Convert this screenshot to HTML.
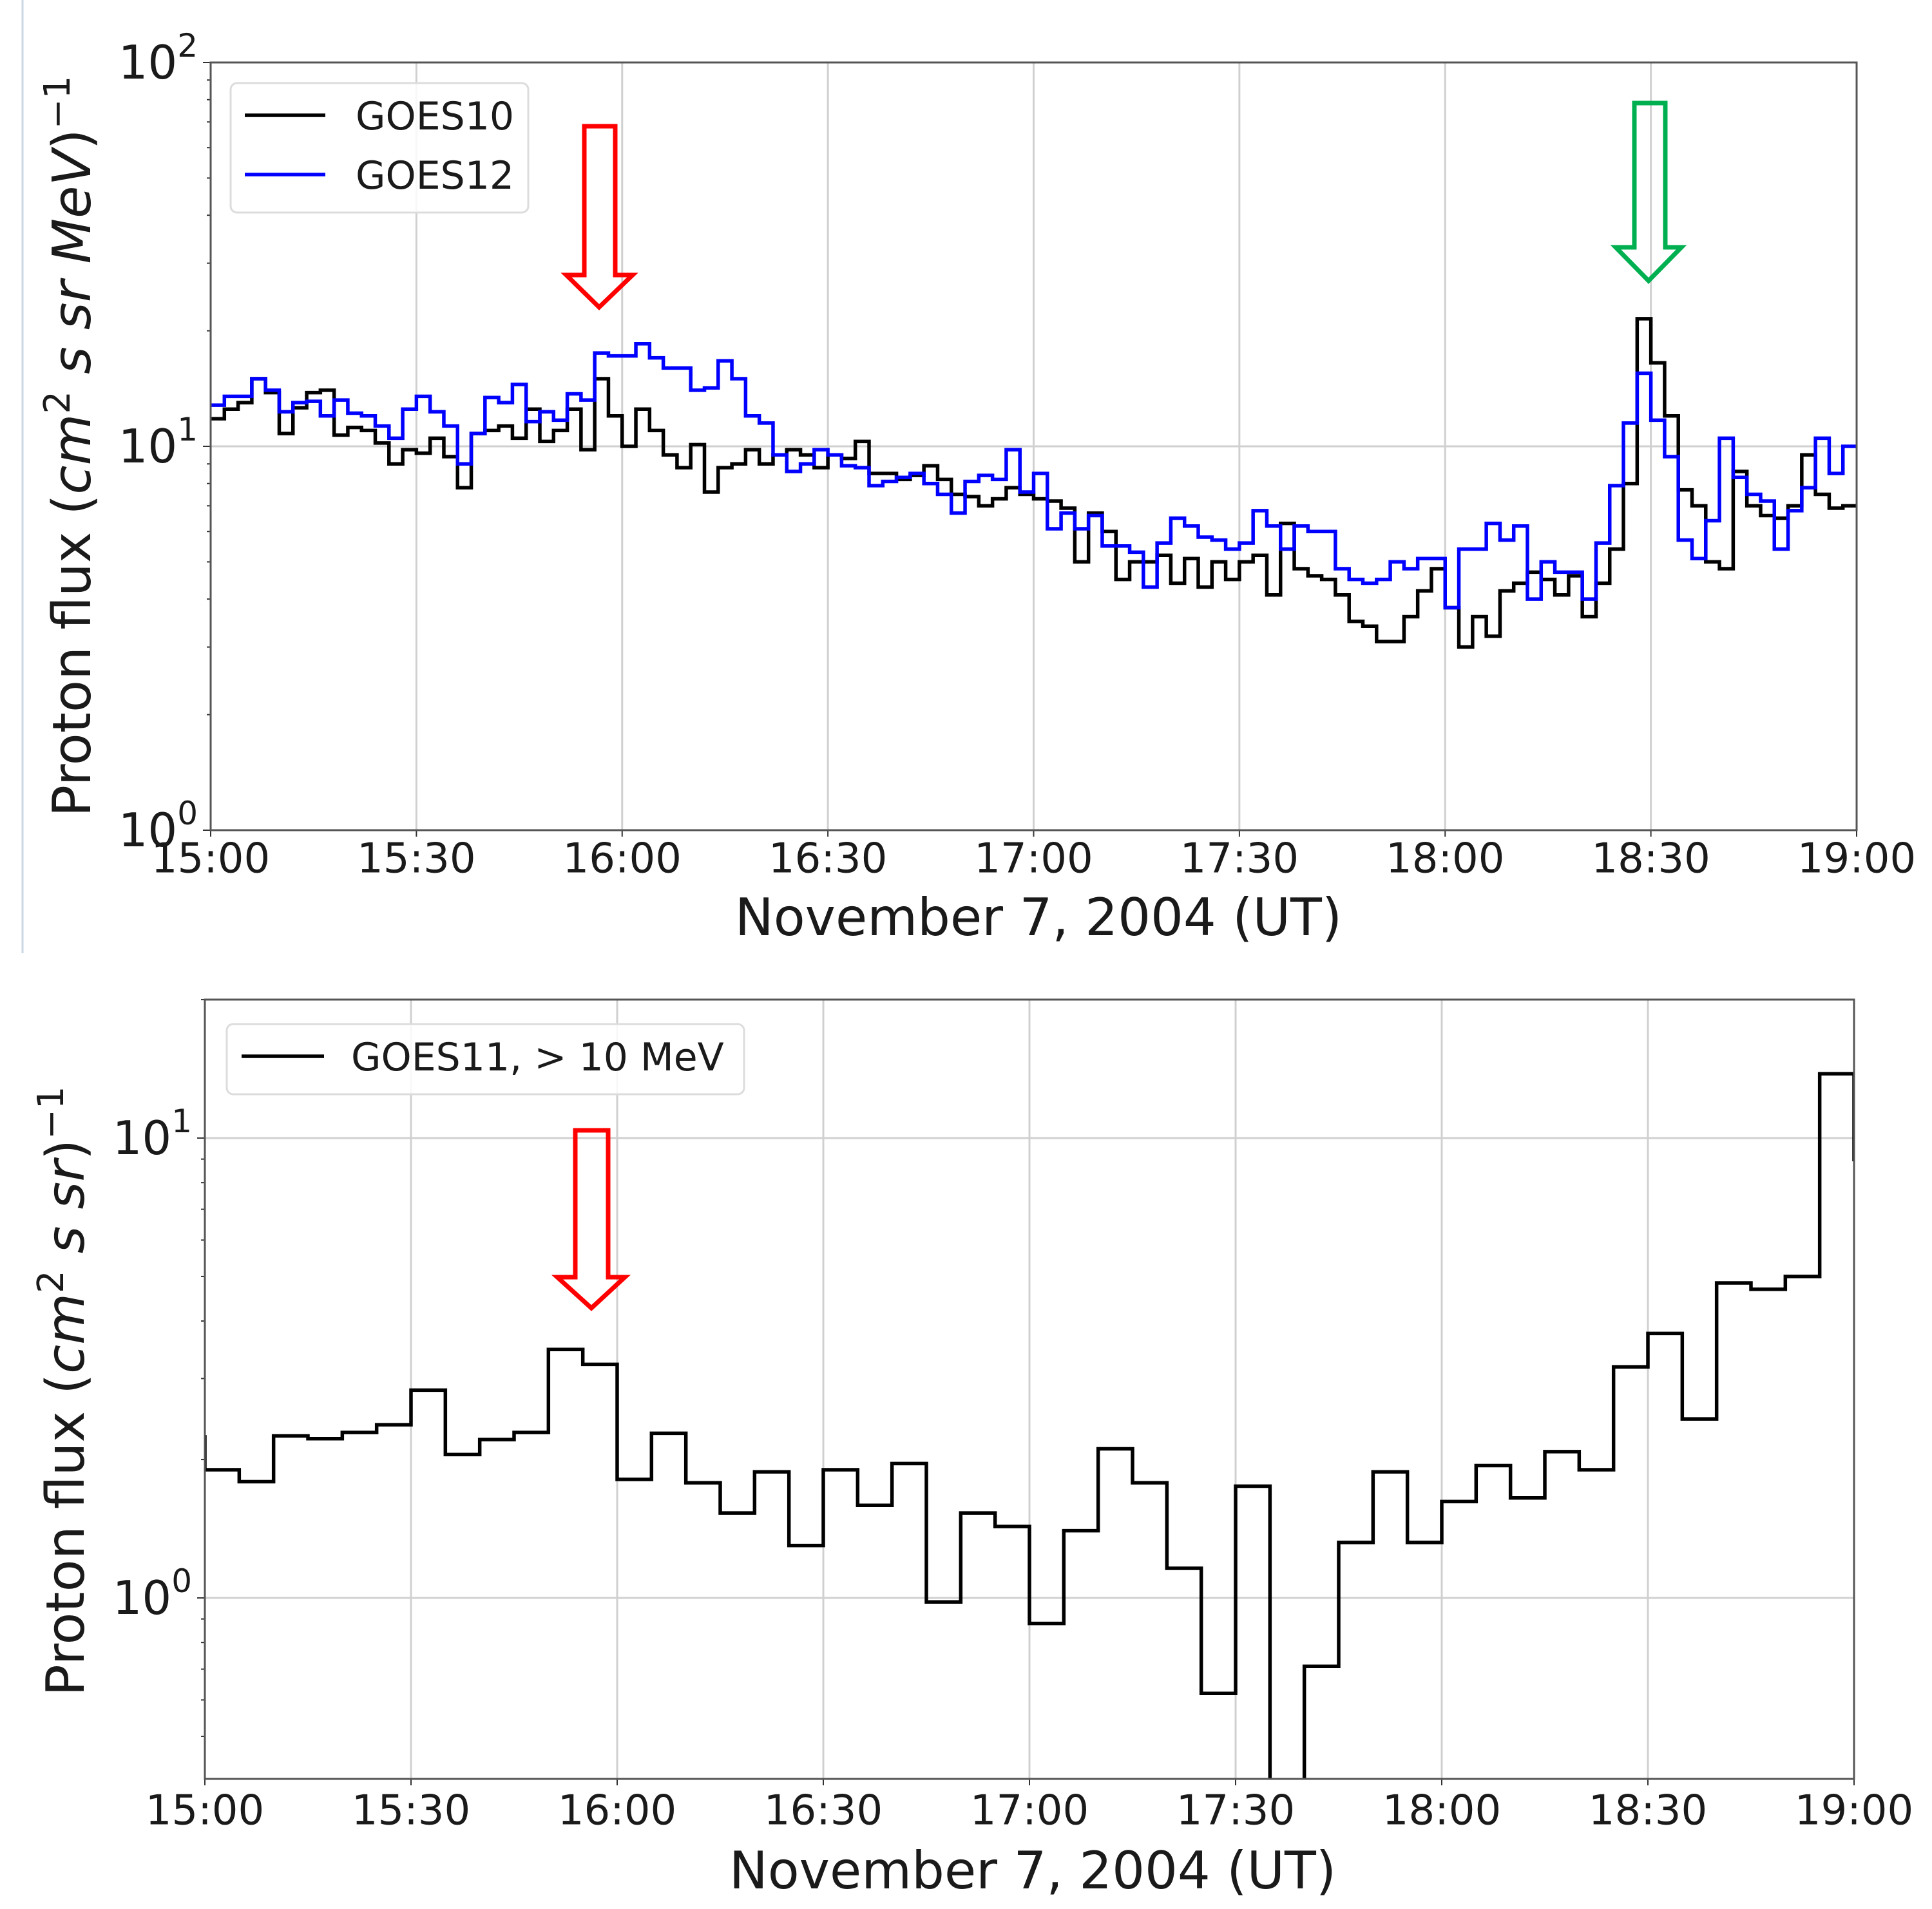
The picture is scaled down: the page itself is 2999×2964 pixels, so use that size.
<!DOCTYPE html>
<html><head><meta charset="utf-8">
<style>
html,body{margin:0;padding:0;background:#fff;}
svg{display:block;}
text{font-family:"DejaVu Sans","Liberation Sans",sans-serif;fill:#1a1a1a;}
</style></head>
<body>
<svg id="fig" width="2999" height="2964" viewBox="0 0 2999 2964" xmlns="http://www.w3.org/2000/svg">
<rect x="0" y="0" width="2999" height="2964" fill="#fff"/>
<line x1="35" y1="0" x2="35" y2="1480" stroke="#c9d6e3" stroke-width="3"/>
<defs>
<clipPath id="clipTop"><rect x="327" y="97" width="2555" height="1192"/></clipPath>
<clipPath id="clipBot"><rect x="318" y="1552" width="2560" height="1210"/></clipPath>
</defs>
<g id="topPanel"></g>
<g id="botPanel"></g>
</svg>
<script>
// ---- top panel data (2-min bins from 15:00) ----
const topBinMinutes = 2;
const goes10 = [11.8,12.5,13,15,13.8,10.8,12.6,13.8,14,10.7,11.2,11,10.2,9,9.8,9.6,10.5,9.4,7.8,10.8,
11,11.3,10.5,12.5,10.3,11,12.5,9.8,15,12,10,12.5,11,9.5,8.8,10.1,7.6,8.8,9,9.8,
9,9.5,9.8,9.5,8.8,9.5,9.3,10.3,8.5,8.5,8.2,8.4,8.9,8.2,7.5,7.4,7,7.3,7.8,7.5,
7.3,7.2,6.9,5,6.7,6,4.5,5,5,5.2,4.4,5.1,4.3,5,4.5,5,5.2,4.1,6.3,4.8,
4.6,4.5,4.1,3.5,3.4,3.1,3.1,3.6,4.2,4.8,3.8,3,3.6,3.2,4.2,4.4,4.7,4.5,4.1,4.6,
3.6,4.4,5.4,8,21.5,16.5,12,7.7,7,5,4.8,8.6,7,6.6,6.5,7,9.5,7.5,6.9,7];
const goes12 = [12.8,13.5,13.5,15,14,12.3,13,13.1,12,13.2,12.2,12,11.3,10.5,12.5,13.5,12.3,11.3,9,10.8,
13.4,13,14.5,11.6,12.3,11.7,13.7,13.2,17.5,17.2,17.2,18.5,17,16,16,14,14.2,16.7,15,12,
11.5,9.5,8.6,9,9.8,9.5,8.9,8.8,7.9,8.1,8.3,8.5,8,7.5,6.7,8.1,8.4,8.2,9.8,7.6,
8.5,6.1,6.7,6.1,6.6,5.5,5.5,5.3,4.3,5.6,6.5,6.2,5.8,5.7,5.4,5.6,6.8,6.2,5.4,6.2,
6,6,4.8,4.5,4.4,4.5,5,4.8,5.1,5.1,3.8,5.4,5.4,6.3,5.7,6.2,4,5,4.7,4.7,
4,5.6,7.9,11.5,15.5,11.7,9.4,5.7,5.1,6.4,10.5,8.3,7.5,7.2,5.4,6.8,7.8,10.5,8.5,10];
// ---- bottom panel data (5-min bins from 15:00) ----
const botBinMinutes = 5;
const goes11 = [1.9,1.79,2.25,2.22,2.29,2.38,2.83,2.05,2.21,2.29,3.47,3.22,1.81,2.28,1.78,1.53,1.88,1.3,1.9,1.59,
1.96,0.98,1.53,1.43,0.88,1.4,2.11,1.78,1.16,0.62,1.75,0.3,0.71,1.32,1.88,1.32,1.62,1.94,1.65,2.08,
1.9,3.18,3.76,2.45,4.84,4.69,5.0,13.8];
const goes11Start = 2.26;
const goes11End = 8.9;
const xTickLabels = ["15:00","15:30","16:00","16:30","17:00","17:30","18:00","18:30","19:00"];
const topYTicks = [0,1,2];
const botYTicks = [0,1];

const NS="http://www.w3.org/2000/svg";
function mk(parent,tag,attrs,text){const e=document.createElementNS(NS,tag);for(const k in attrs)e.setAttribute(k,attrs[k]);if(text!==undefined)e.textContent=text;parent.appendChild(e);return e;}

function panel(g,cfg){
  const X=m=>cfg.x0+(cfg.x1-cfg.x0)*m/240;
  const Y=v=>cfg.yRef-(Math.log10(v)-cfg.refExp)*cfg.dec;
  xTickLabels.forEach((lab,i)=>{
    const x=X(i*30);
    const gl=mk(g,'line',{x1:x,y1:cfg.y0,x2:x,y2:cfg.y1,stroke:'#d0d0d0','stroke-width':3});
    
    
    const tk=mk(g,'line',{x1:x,y1:cfg.y1,x2:x,y2:cfg.y1+10,stroke:'#333','stroke-width':2});
    
    
    const t=mk(g,'text',{x:x,y:cfg.tickY,'font-size':64,'text-anchor':'middle','dominant-baseline':'middle'},lab);
    
    
  });
  cfg.yTicks.forEach(e=>{
    const y=Y(Math.pow(10,e));
    if(y>cfg.y0+2&&y<cfg.y1-2){
      const gl=mk(g,'line',{x1:cfg.x0,y1:y,x2:cfg.x1,y2:y,stroke:'#d0d0d0','stroke-width':3});
      
      
    }
    const t=mk(g,'text',{x:cfg.x0-20,y:y+25,'font-size':72,'text-anchor':'end'});
    
    
    t.appendChild(document.createTextNode('10'));
    mk(t,'tspan',{dy:-34,'font-size':50},String(e));
  });
  for(let e=-1;e<3;e++)for(let k=2;k<10;k++){
    const y=Y(k*Math.pow(10,e));
    if(y>cfg.y0&&y<cfg.y1){mk(g,'line',{x1:cfg.x0-6,y1:y,x2:cfg.x0,y2:y,stroke:'#333','stroke-width':2});}
  }
  for(let e=-1;e<3;e++){const y=Y(Math.pow(10,e));if(y>=cfg.y0-1&&y<=cfg.y1+1)mk(g,'line',{x1:cfg.x0-12,y1:y,x2:cfg.x0,y2:y,stroke:'#333','stroke-width':2});}
  return {X,Y};
}
function stepPath(vals,binMin,X,Y,start,end){
  let d='';
  vals.forEach((v,i)=>{
    const xa=X(i*binMin), xb=X((i+1)*binMin), y=Y(v);
    if(i===0) d+= (start!==undefined? 'M'+xa+','+Y(start)+' L'+xa+','+y : 'M'+xa+','+y);
    else d+=' L'+xa+','+y;
    d+=' L'+xb+','+y;
  });
  if(end!==undefined) d+=' L'+X(vals.length*binMin)+','+Y(end);
  return d;
}

// ---------- TOP ----------
const gt=document.getElementById('topPanel');
const topCfg={x0:327,x1:2882,y0:97,y1:1289,yRef:693,refExp:1,dec:596,tickY:1337,yTicks:topYTicks};
const A=panel(gt,topCfg);
const p10=mk(gt,'path',{d:stepPath(goes10,topBinMinutes,A.X,A.Y),fill:'none',stroke:'#000','stroke-width':5.5,'clip-path':'url(#clipTop)'});


const p12=mk(gt,'path',{d:stepPath(goes12,topBinMinutes,A.X,A.Y),fill:'none',stroke:'#0000ff','stroke-width':5.5,'clip-path':'url(#clipTop)'});


const fr1=mk(gt,'rect',{x:topCfg.x0,y:topCfg.y0,width:topCfg.x1-topCfg.x0,height:topCfg.y1-topCfg.y0,fill:'none',stroke:'#555','stroke-width':3});



// ---------- BOTTOM ----------
const gb=document.getElementById('botPanel');
const botCfg={x0:318,x1:2878,y0:1552,y1:2762,yRef:2481,refExp:0,dec:714,tickY:2815,yTicks:botYTicks};
const B=panel(gb,botCfg);
const p11=mk(gb,'path',{d:stepPath(goes11,botBinMinutes,B.X,B.Y,goes11Start,goes11End),fill:'none',stroke:'#000','stroke-width':5.5,'clip-path':'url(#clipBot)'});


const fr2=mk(gb,'rect',{x:botCfg.x0,y:botCfg.y0,width:botCfg.x1-botCfg.x0,height:botCfg.y1-botCfg.y0,fill:'none',stroke:'#555','stroke-width':3});


</script>
<svg width="2999" height="2964" viewBox="0 0 2999 2964" xmlns="http://www.w3.org/2000/svg" style="position:absolute;left:0;top:0;">
<g font-family="DejaVu Sans, Liberation Sans, sans-serif" fill="#1a1a1a">
  <rect x="358" y="129" width="462" height="201" rx="10" fill="#fff" fill-opacity="0.85" stroke="#dcdcdc" stroke-width="3"/>
  <line x1="380" y1="179" x2="505" y2="179" stroke="#000" stroke-width="5.5"/>
  <text x="552" y="201" font-size="60">GOES10</text>
  <line x1="380" y1="271" x2="505" y2="271" stroke="#0000ff" stroke-width="5.5"/>
  <text x="552" y="293" font-size="60">GOES12</text>
  <text x="1612" y="1452" font-size="80" text-anchor="middle">November 7, 2004 (UT)</text>
  <text transform="translate(140,693) rotate(-90)" font-size="82" text-anchor="middle">Proton flux (<tspan font-style="italic">cm</tspan><tspan font-size="56" dy="-32">2</tspan><tspan dy="32" font-style="italic"> s sr MeV</tspan>)<tspan font-size="56" dy="-32">−1</tspan></text>
  <polygon points="907,196 955,196 955,427 982,427 930,477 879,427 907,427" fill="none" stroke="#ff0000" stroke-width="7"/>
  <polygon points="2537,160 2585,160 2585,384 2610,384 2559,436 2508,384 2537,384" fill="none" stroke="#00b050" stroke-width="7"/>
  <rect x="352" y="1590" width="803" height="109" rx="10" fill="#fff" fill-opacity="0.85" stroke="#dcdcdc" stroke-width="3"/>
  <line x1="375" y1="1640" x2="503" y2="1640" stroke="#000" stroke-width="5.5"/>
  <text x="545" y="1662" font-size="60">GOES11, &gt; 10 MeV</text>
  <text x="1603" y="2932" font-size="80" text-anchor="middle">November 7, 2004 (UT)</text>
  <text transform="translate(130,2160) rotate(-90)" font-size="82" text-anchor="middle">Proton flux (<tspan font-style="italic">cm</tspan><tspan font-size="56" dy="-32">2</tspan><tspan dy="32" font-style="italic"> s sr</tspan>)<tspan font-size="56" dy="-32">−1</tspan></text>
  <polygon points="893,1755 944,1755 944,1983 970,1983 918,2031 865,1983 893,1983" fill="none" stroke="#ff0000" stroke-width="7"/>
</g>
</svg>
</body></html>
